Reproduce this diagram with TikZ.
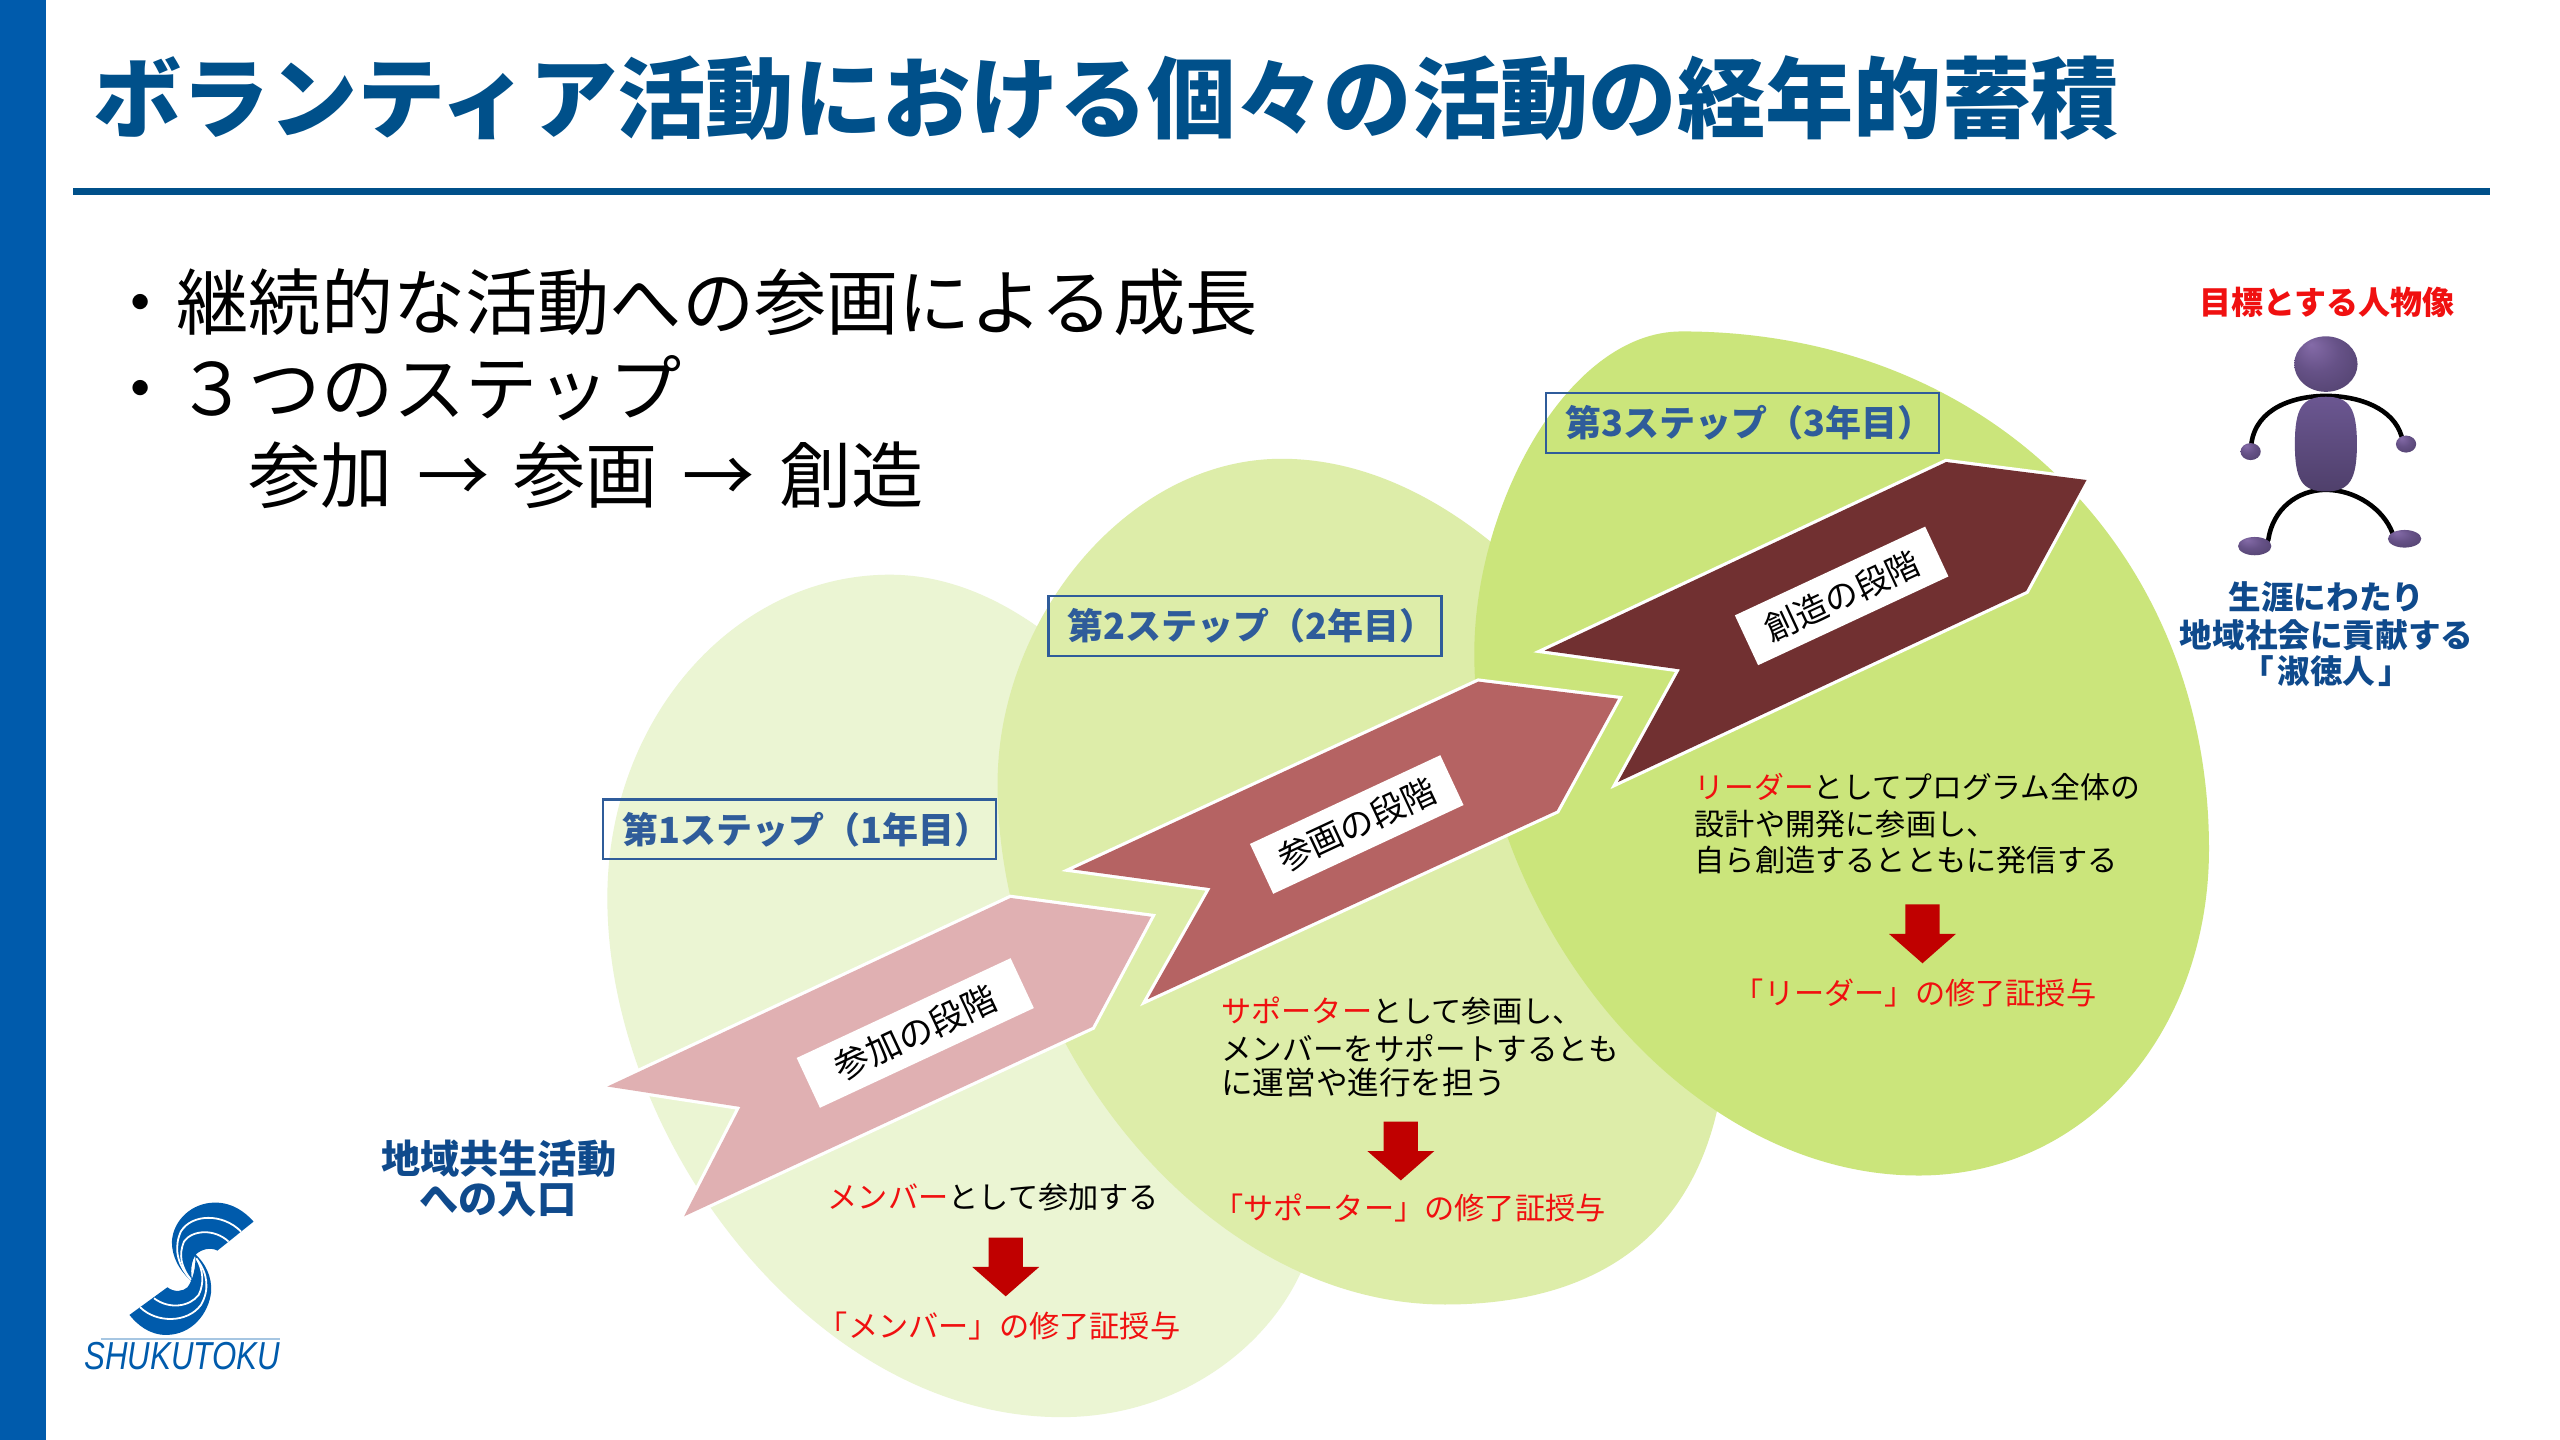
\documentclass[tikz,border=0pt]{standalone}
\usepackage{fontspec}
\setmainfont{Noto Sans CJK JP}
\newfontfamily\latinfont{Liberation Sans}
\definecolor{barblue}{HTML}{005BAC}
\definecolor{titleblue}{HTML}{00508A}
\definecolor{navy}{HTML}{0F4A8C}
\definecolor{stepblue}{HTML}{2F5C9A}
\definecolor{blobA}{HTML}{EBF5D3}
\definecolor{blobB}{HTML}{DDEDA9}
\definecolor{blobC}{HTML}{CBE57B}
\definecolor{arrowA}{HTML}{E0B0B2}
\definecolor{arrowB}{HTML}{B56363}
\definecolor{arrowC}{HTML}{713031}
\definecolor{darkred}{HTML}{C00000}
\definecolor{brightred}{HTML}{F01010}
\pgfdeclareradialshading{headshade}{\pgfpoint{-12bp}{18bp}}{rgb(0bp)=(0.52,0.42,0.66);rgb(18bp)=(0.40,0.32,0.53);rgb(40bp)=(0.31,0.25,0.42);rgb(50bp)=(0.31,0.25,0.42)}
\tikzset{
  x=0.81633pt,y=-0.81633pt,
  tx/.style={inner sep=0pt,outer sep=0pt,anchor=west},
  txc/.style={inner sep=0pt,outer sep=0pt,anchor=center},
  titletext/.style={tx,text=titleblue,font=\fontsize{44.15}{46}\selectfont\bfseries},
  bodytext/.style={tx,text=black,font=\fontsize{36.1}{38}\selectfont},
  stepbox/.style={draw=stepblue,line width=1.1pt,minimum width=196.5pt,minimum height=29.8pt,inner sep=0pt,anchor=center,text=stepblue,font=\fontsize{18}{19}\selectfont\bfseries},
  blocktext/.style={tx,text=black,font=\fontsize{15.1}{16}\selectfont},
  certtext/.style={tx,text=brightred,font=\fontsize{15.1}{16}\selectfont},
  tagbox/.style={fill=white,minimum width=105pt,minimum height=27.5pt,inner sep=0pt,rotate=25,text=black},
  navytext/.style={txc,text=navy,font=\fontsize{16.3}{18}\selectfont\bfseries},
  entrytext/.style={txc,text=navy,font=\fontsize{19.6}{21}\selectfont\bfseries},
  stagearrow/.style={preaction={draw=white,line width=3.2pt,miter limit=10}},
  limb/.style={draw=black,line width=2.3pt,line cap=round},
  redarrow/.pic={\fill[darkred] (-10.5,0)--(10.5,0)--(10.5,18)--(20.5,18)--(0,36)--(-20.5,18)--(-10.5,18)--cycle;}
}
\begin{document}
\begin{tikzpicture}
\useasboundingbox (0,0) rectangle (1568,882);
\fill[white] (0,0) rectangle (1568,882);
\fill[barblue] (0,0) rectangle (28,882);
\fill[titleblue] (45,115.2) rectangle (1525,119.6);
\node[titletext] (title) at (57,60) {ボランティア活動における個々の活動の経年的蓄積};
\node[bodytext] (l1) at (64,185) {・継続的な活動への参画による成長};
\node[bodytext] (l2) at (64,238) {・３つのステップ};
\node[bodytext] (l3) at (152,291) {参加\hspace{0.34em}→\hspace{0.34em}参画\hspace{0.34em}→\hspace{0.34em}創造};
% blobs
\fill[blobA] (545,352) .. controls (690,352) and (808,600) .. (808,730) .. controls (808,800) and (740,868) .. (650,868) .. controls (500,868) and (372,700) .. (372,550) .. controls (372,440) and (450,352) .. (545,352) -- cycle;
\fill[blobB] (785,281) .. controls (930,281) and (1058,480) .. (1058,620) .. controls (1058,750) and (985,799) .. (885,799) .. controls (740,799) and (611,640) .. (611,480) .. controls (611,380) and (690,281) .. (785,281) -- cycle;
\fill[blobC] (1030,203) .. controls (1220,203) and (1353,340) .. (1353,520) .. controls (1353,630) and (1280,720) .. (1175,720) .. controls (1030,720) and (903,560) .. (903,400) .. controls (903,310) and (960,203) .. (1030,203) -- cycle;
% stage arrows
\path[stagearrow,fill=arrowA] (372,665.5)--(619,550)--(705,561.5)--(669,629)--(419,745)--(453.5,678)--cycle;
\path[stagearrow,fill=arrowB] (657,532.5)--(905.5,417.5)--(991,428)--(953.5,496.5)--(703,612)--(741.5,544)--cycle;
\path[stagearrow,fill=arrowC] (946,398.5)--(1192,283)--(1278,294)--(1241,362)--(991,479)--(1029,410)--cycle;
\node[tagbox,minimum width=118pt,font=\fontsize{17.4}{19}\selectfont] (t1) at (560.6,632.7) {参加の段階};
\node[tagbox,font=\fontsize{17}{19}\selectfont] (t2) at (831,505) {参画の段階};
\node[tagbox,font=\fontsize{16.6}{18}\selectfont] (t3) at (1128,365) {創造の段階};
% step boxes
\node[stepbox] (s1) at (489.5,508) {\hspace*{7pt}第1ステップ（1年目）};
\node[stepbox] (s2) at (762.5,383.5) {\hspace*{7pt}第2ステップ（2年目）};
\node[stepbox] (s3) at (1067.5,259) {\hspace*{7pt}第3ステップ（3年目）};
% block 3
\node[blocktext,font=\fontsize{14.9}{16}\selectfont] (c1) at (1038,482) {\textcolor{brightred}{リーダー}としてプログラム全体の};
\node[blocktext] (c2) at (1038,505) {設計や開発に参画し、};
\node[blocktext] (c3) at (1038,527) {自ら創造するとともに発信する};
\pic at (1177.5,554) {redarrow};
\node[certtext] (c4) at (1062,608) {「リーダー」の修了証授与};
% block 2
\node[blocktext] (b1) at (748,619) {\textcolor{brightred}{サポーター}として参画し、};
\node[blocktext,font=\fontsize{15.3}{16}\selectfont] (b2) at (748,642) {メンバーをサポートするとも};
\node[blocktext,font=\fontsize{15.8}{16}\selectfont] (b3) at (748,663) {に運営や進行を担う};
\pic at (858,687) {redarrow};
\node[certtext] (b4) at (743,740) {「サポーター」の修了証授与};
% block 1
\node[blocktext] (a1) at (507,733) {\textcolor{brightred}{メンバー}として参加する};
\pic at (616,758) {redarrow};
\node[certtext] (a2) at (501,812) {「メンバー」の修了証授与};
% entry
\node[entrytext] (e1) at (305.5,710) {地域共生活動};
\node[entrytext] (e2) at (305,735) {への入口};
% person
\node[txc,text=brightred,font=\fontsize{16}{17}\selectfont\bfseries] (goal) at (1425,185) {目標とする人物像};
\node[navytext] (g1) at (1425,366) {生涯にわたり};
\node[navytext] (g2) at (1425,389) {地域社会に貢献する};
\node[navytext] (g3) at (1425,411) {「\hspace{0.1em}淑徳人\hspace{0.1em}」};
\draw[limb] (1379,271.5) .. controls (1382,250) and (1405,242.5) .. (1424.6,242.5) .. controls (1445,242.5) and (1466,250) .. (1471,267.4);
\draw[limb] (1389.3,330.7) .. controls (1392,312) and (1407,300) .. (1424.6,300) .. controls (1443,300) and (1460,312) .. (1465.4,326.6);
\shade[shading=headshade] (1424.6,223) ellipse [x radius=19.4,y radius=17];
\shade[top color={rgb,1:red,0.42;green,0.34;blue,0.57},bottom color={rgb,1:red,0.31;green,0.25;blue,0.42}] (1405.6,272) .. controls (1405.6,250) and (1410,243) .. (1424.6,243) .. controls (1439,243) and (1443.6,250) .. (1443.6,272) .. controls (1443.6,294) and (1439,301) .. (1424.6,301) .. controls (1410,301) and (1405.6,294) .. (1405.6,272) -- cycle;
\shade[shading=headshade] (1378.5,276.6) ellipse [x radius=6.2,y radius=5.2];
\shade[shading=headshade] (1473.7,272) ellipse [x radius=6.2,y radius=5.2];
\shade[shading=headshade] (1381,334.5) ellipse [x radius=10.2,y radius=5.6];
\shade[shading=headshade] (1472.8,330) ellipse [x radius=10.2,y radius=5.4];
% logo
\begin{scope}[shift={(0,673.7)},x=0.22322pt,y=-0.16667pt]
\fill[barblue] (432,548) .. controls (400,510) and (385,470) .. (385,425) .. controls (388,360) and (430,308) .. (482,308) .. controls (520,308) and (548,335) .. (568,365) -- (487,452) .. controls (470,440) and (450,450) .. (440,462) .. controls (428,480) and (425,520) .. (432,548) -- cycle;
\draw[white,line width=0.9pt] (540,395) .. controls (500,340) and (430,340) .. (405,395) .. controls (390,440) and (395,490) .. (425,535);
\draw[white,line width=0.9pt] (512,425) .. controls (480,385) and (430,390) .. (412,425) .. controls (400,465) and (405,500) .. (428,540);
\fill[barblue] (437,462) .. controls (460,490) and (475,530) .. (473,575) .. controls (468,640) and (430,705) .. (372,705) .. controls (335,705) and (308,675) .. (290,645) -- (375,562) .. controls (390,578) and (410,575) .. (420,562) .. controls (432,540) and (440,500) .. (437,462) -- cycle;
\draw[white,line width=0.9pt] (314,622) .. controls (350,670) and (420,670) .. (450,615) .. controls (470,570) and (465,520) .. (442,480);
\draw[white,line width=0.9pt] (345,595) .. controls (380,630) and (425,620) .. (445,585) .. controls (458,550) and (455,510) .. (440,475);
\draw[barblue!35,line width=1.1pt] (226,716) -- (628,716);
\node[inner sep=0pt,anchor=center,text=barblue,xscale=0.8,font=\latinfont\itshape\fontsize{19.5}{20}\selectfont] (logo) at (408,768) {SHUKUTOKU};
\end{scope}
\end{tikzpicture}
\end{document}
